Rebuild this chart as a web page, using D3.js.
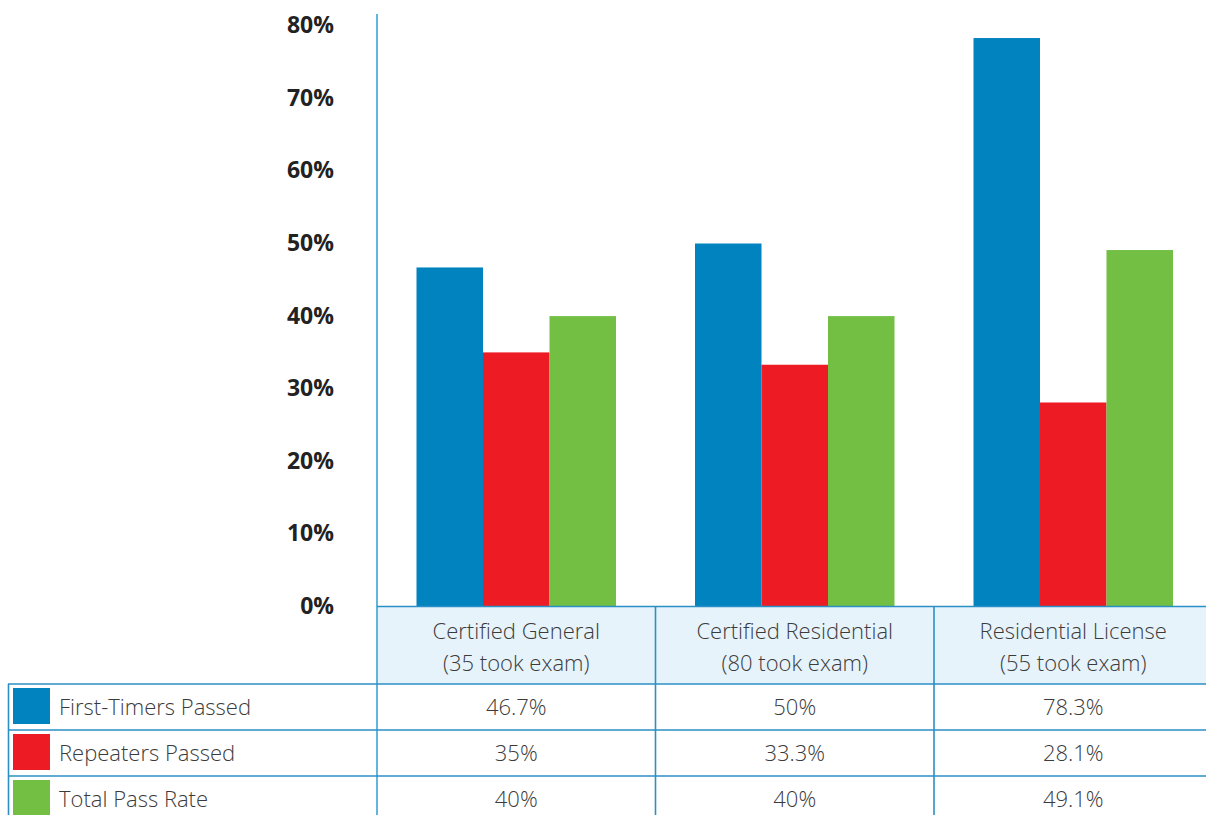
<!DOCTYPE html>
<html><head><meta charset="utf-8">
<script src="https://cdn.jsdelivr.net/npm/d3@7"></script>
<style>
html,body{margin:0;padding:0;background:#fff;}
svg{display:block;}
</style></head>
<body>
<svg id="chart" width="1206" height="815"></svg>
<script>
const categories = ["Certified General", "Certified Residential", "Residential License"];
const examCounts = ["(35 took exam)", "(80 took exam)", "(55 took exam)"];
const seriesNames = ["First-Timers Passed", "Repeaters Passed", "Total Pass Rate"];
const firstTimers = [46.7, 50, 78.3];
const repeaters = [35, 33.3, 28.1];
const totalPass = [40, 40, 49.1];
const tableLabels = [["46.7%", "50%", "78.3%"], ["35%", "33.3%", "28.1%"], ["40%", "40%", "49.1%"]];
const yTicks = [0, 10, 20, 30, 40, 50, 60, 70, 80];
const colors = ["#0083BE", "#ED1C24", "#72BF44"];

const series = [firstTimers, repeaters, totalPass];
const svg = d3.select("#chart");
const axisX = 377, baseY = 606.5, colW = 278.5;
const font = "'Open Sans', 'Noto Sans', sans-serif";
const textColor = "#3b3b3b";
const lineColor = "#2b8fc6";
const tSize = 22;

const x0 = d3.scaleBand().domain(categories).range([axisX, axisX + 3 * colW]).paddingInner(0).paddingOuter(0);
const x1 = d3.scaleBand().domain(seriesNames).range([39.5, colW - 39.5]).padding(0);
const y = d3.scaleLinear().domain([0, 80]).range([baseY, baseY - 80 * 7.26]);

// header row fill
svg.append("rect").attr("x", axisX).attr("y", baseY).attr("width", 3 * colW).attr("height", 684 - baseY).attr("fill", "#E6F3FB");

// bars
const groups = svg.append("g").selectAll("g").data(categories).join("g")
  .attr("transform", d => `translate(${x0(d)},0)`);
groups.selectAll("rect").data((d, i) => seriesNames.map((s, j) => ({s, v: series[j][i], c: colors[j]})))
  .join("rect")
  .attr("x", d => x1(d.s)).attr("width", x1.bandwidth())
  .attr("y", d => y(d.v)).attr("height", d => baseY - y(d.v))
  .attr("fill", d => d.c);

// y axis labels
const yAxis = d3.axisLeft(y).tickValues(yTicks).tickSize(0).tickFormat(d => d + "%");
const ag = svg.append("g").attr("transform", `translate(334,0)`).call(yAxis);
ag.select(".domain").remove();
ag.selectAll("text").attr("x", 0).attr("dy", "0.3em")
  .attr("font-family", font).attr("font-weight", 700).attr("font-size", 23).attr("fill", "#222");

// axis line
svg.append("line").attr("x1", axisX).attr("x2", axisX).attr("y1", 14).attr("y2", 815)
  .attr("stroke", "#3BA3D6").attr("stroke-width", 1.6);

// table lines
const rowTops = [684, 730, 776, 822];
svg.append("line").attr("x1", axisX).attr("x2", 1206).attr("y1", baseY).attr("y2", baseY).attr("stroke", lineColor).attr("stroke-width", 1.6);
rowTops.forEach(yy => {
  svg.append("line").attr("x1", 8).attr("x2", 1206).attr("y1", yy).attr("y2", yy).attr("stroke", lineColor).attr("stroke-width", 1.6);
});
svg.append("line").attr("x1", 8.5).attr("x2", 8.5).attr("y1", 684).attr("y2", 815).attr("stroke", lineColor).attr("stroke-width", 1.6);
categories.forEach((c, i) => {
  if (i > 0) {
    svg.append("line").attr("x1", x0(c)).attr("x2", x0(c)).attr("y1", baseY).attr("y2", 815).attr("stroke", lineColor).attr("stroke-width", 1.6);
  }
});

// header text
categories.forEach((c, i) => {
  const cx = x0(c) + x0.bandwidth() / 2;
  svg.append("text").attr("x", cx).attr("y", 631).attr("dy", "0.35em").attr("text-anchor", "middle")
    .attr("font-family", font).attr("font-weight", 300).attr("font-size", tSize).attr("fill", textColor).text(c);
  svg.append("text").attr("x", cx).attr("y", 663).attr("dy", "0.35em").attr("text-anchor", "middle")
    .attr("font-family", font).attr("font-weight", 300).attr("font-size", tSize).attr("fill", textColor).text(examCounts[i]);
});

// legend rows + values
seriesNames.forEach((s, j) => {
  const top = rowTops[j];
  svg.append("rect").attr("x", 13).attr("y", top + 4).attr("width", 37).attr("height", 36).attr("fill", colors[j]);
  svg.append("text").attr("x", 59).attr("y", top + 23).attr("dy", "0.35em")
    .attr("font-family", font).attr("font-weight", 300).attr("font-size", tSize).attr("fill", textColor).text(s);
  categories.forEach((c, i) => {
    svg.append("text").attr("x", x0(c) + x0.bandwidth() / 2).attr("y", top + 23).attr("dy", "0.35em").attr("text-anchor", "middle")
      .attr("font-family", font).attr("font-weight", 300).attr("font-size", tSize).attr("fill", textColor).text(tableLabels[j][i]);
  });
});
</script>
</body></html>
